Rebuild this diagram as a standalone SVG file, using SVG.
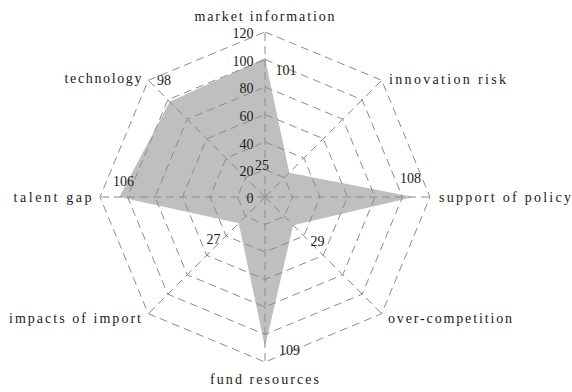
<svg xmlns="http://www.w3.org/2000/svg" width="572" height="392" viewBox="0 0 572 392">
  <style>
    .grid { fill: none; stroke: #8c8c8c; stroke-width: 1; stroke-dasharray: 8 5; }
    .area { fill: #bfbfbf; stroke: none; }
    .cat { font-family: "Liberation Serif", "Times New Roman", serif; font-size: 14px; fill: #1a1a1a; }
    .num { font-family: "Liberation Serif", "Times New Roman", serif; font-size: 14px; fill: #1a1a1a; }
  </style>
  <rect width="572" height="392" fill="#ffffff"/>

  <!-- data area -->
  <g id="series">
    <polygon class="area" points="265,58.1 289.3,172.7 413.5,197 293.2,225.2 265,346.9 238.7,223.3 119.3,197 169.7,101.7"/>
  </g>

  <!-- grid rings and spokes -->
  <g id="connectors">
    <polygon class="grid" points="265,169.5 284.4,177.6 292.5,197 284.4,216.4 265,224.5 245.6,216.4 237.5,197 245.6,177.6"/>
    <polygon class="grid" points="265,142 303.9,158.1 320,197 303.9,235.9 265,252 226.1,235.9 210,197 226.1,158.1"/>
    <polygon class="grid" points="265,114.5 323.3,138.7 347.5,197 323.3,255.3 265,279.5 206.7,255.3 182.5,197 206.7,138.7"/>
    <polygon class="grid" points="265,87 342.8,119.2 375,197 342.8,274.8 265,307 187.2,274.8 155,197 187.2,119.2"/>
    <polygon class="grid" points="265,59.5 362.2,99.8 402.5,197 362.2,294.2 265,334.5 167.8,294.2 127.5,197 167.8,99.8"/>
    <polygon class="grid" points="265,32 381.7,80.3 430,197 381.7,313.7 265,362 148.3,313.7 100,197 148.3,80.3"/>
    <line class="grid" x1="265" y1="197" x2="265" y2="32"/>
    <line class="grid" x1="265" y1="197" x2="381.7" y2="80.3"/>
    <line class="grid" x1="265" y1="197" x2="430" y2="197"/>
    <line class="grid" x1="265" y1="197" x2="381.7" y2="313.7"/>
    <line class="grid" x1="265" y1="197" x2="265" y2="362"/>
    <line class="grid" x1="265" y1="197" x2="148.3" y2="313.7"/>
    <line class="grid" x1="265" y1="197" x2="100" y2="197"/>
    <line class="grid" x1="265" y1="197" x2="148.3" y2="80.3"/>
  </g>

  <!-- scale values -->
  <g id="scale" class="num" text-anchor="end">
    <text x="253.5" y="38">120</text>
    <text x="253.5" y="66">100</text>
    <text x="253.5" y="93">80</text>
    <text x="253.5" y="121">60</text>
    <text x="253.5" y="148.5">40</text>
    <text x="253.5" y="175.5">20</text>
    <text x="253.5" y="203">0</text>
  </g>

  <!-- axis names, spread to the width of a fixed-pitch face -->
  <g id="axis-market-information"><text class="cat" x="194.5" y="21" textLength="140" lengthAdjust="spacing">market information</text></g>
  <g id="axis-innovation-risk"><text class="cat" x="389" y="84" textLength="117" lengthAdjust="spacing">innovation risk</text></g>
  <g id="axis-support-of-policy"><text class="cat" x="439" y="202" textLength="132" lengthAdjust="spacing">support of policy</text></g>
  <g id="axis-over-competition"><text class="cat" x="388" y="322.5" textLength="124" lengthAdjust="spacing">over-competition</text></g>
  <g id="axis-fund-resources"><text class="cat" x="210" y="384" textLength="109" lengthAdjust="spacing">fund resources</text></g>
  <g id="axis-impacts-of-import"><text class="cat" x="9" y="322.5" textLength="132" lengthAdjust="spacing">impacts of import</text></g>
  <g id="axis-talent-gap"><text class="cat" x="13.5" y="202" textLength="78" lengthAdjust="spacing">talent gap</text></g>
  <g id="axis-technology"><text class="cat" x="64.5" y="83" textLength="77" lengthAdjust="spacing">technology</text></g>

  <!-- value labels -->
  <g id="values" class="num">
    <text x="275.5" y="75">101</text>
    <text x="255" y="170">25</text>
    <text x="400" y="183">108</text>
    <text x="310.5" y="246">29</text>
    <text x="279" y="355">109</text>
    <text x="206.5" y="244">27</text>
    <text x="113" y="186">106</text>
    <text x="157" y="85">98</text>
  </g>
</svg>
